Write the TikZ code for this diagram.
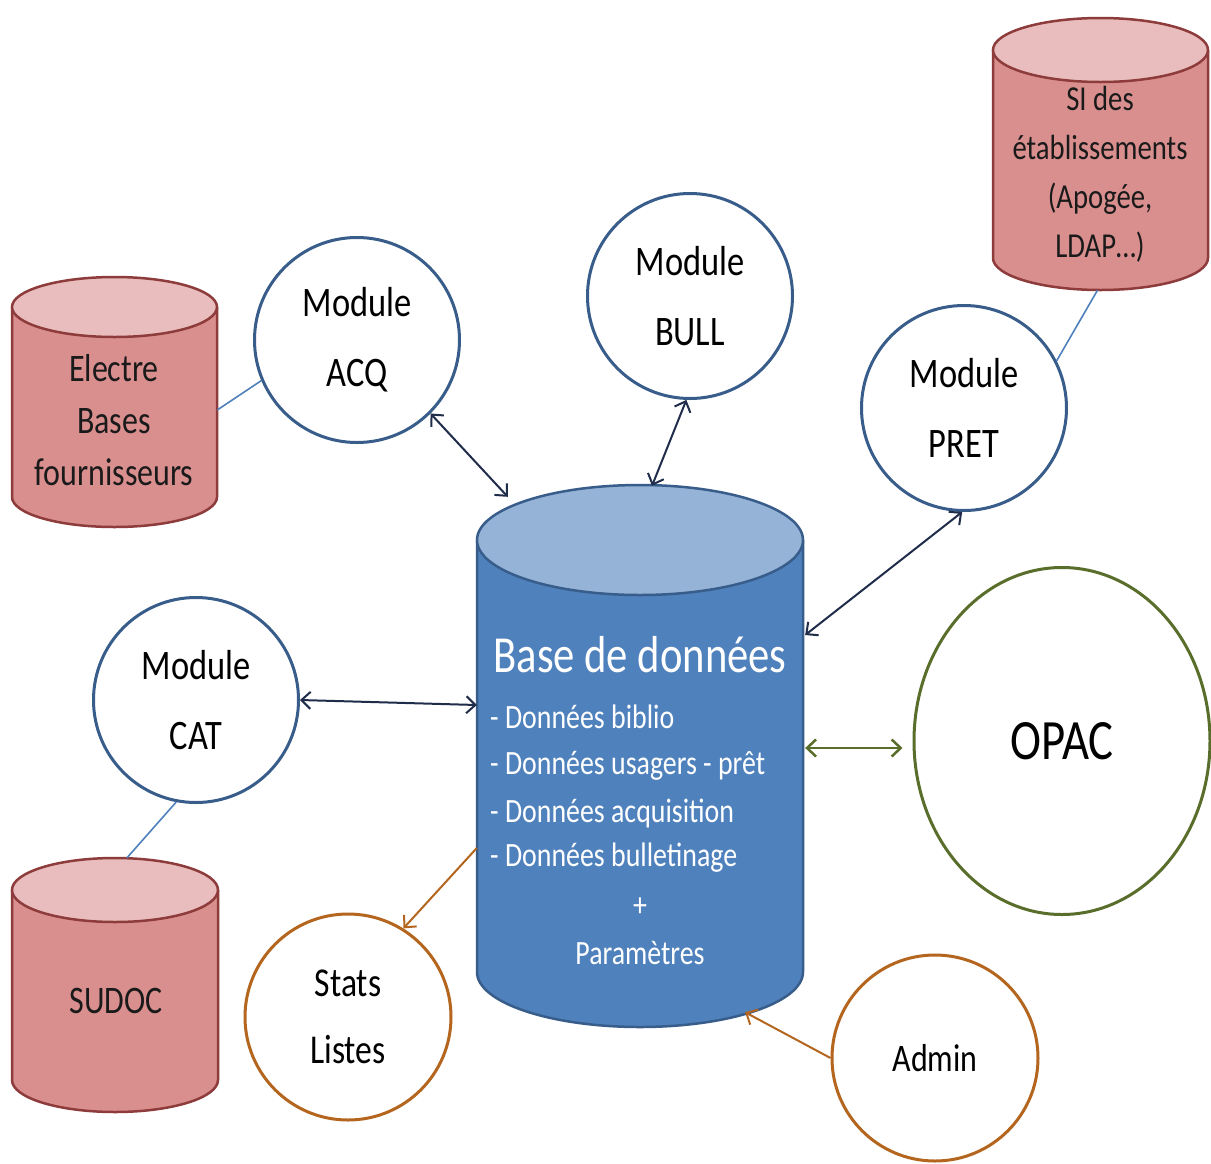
\documentclass[tikz,border=0pt]{standalone}
\usepackage{fontspec}
\setmainfont{Carlito}[FakeStretch=0.82]
\usetikzlibrary{arrows.meta,calc,shapes.geometric}
\definecolor{modblue}{HTML}{385D8A}
\definecolor{darkarr}{HTML}{1F2D4A}
\definecolor{lineblue}{HTML}{4F81BD}
\definecolor{greenc}{HTML}{5A6E2C}
\definecolor{orangec}{HTML}{B4651E}
\definecolor{pinkbody}{HTML}{DA8F8F}
\definecolor{pinktop}{HTML}{E9BDBD}
\definecolor{pinkline}{HTML}{8E3B3B}
\definecolor{dbbody}{HTML}{4F81BD}
\definecolor{dbtop}{HTML}{95B3D7}
\definecolor{dbline}{HTML}{385D8A}
\definecolor{pinktext}{HTML}{1A1A1A}
\newcommand\drawcyl[8]{%
  \fill[#6] (#1-#4,#2) rectangle (#1+#4,#3);
  \fill[#6] (#1,#3) ellipse[x radius=#4, y radius=#5];
  \draw[#8, line width=2.5pt] (#1-#4,#2) -- (#1-#4,#3) arc[start angle=180,end angle=0,x radius=#4,y radius=#5] -- (#1+#4,#2);
  \filldraw[fill=#7, draw=#8, line width=2.5pt] (#1,#2) ellipse[x radius=#4,y radius=#5];
}
\begin{document}
\begin{tikzpicture}[x=1pt,y=-1pt,
  modc/.style={circle, draw=modblue, line width=3pt, fill=white, minimum size=205pt, inner sep=0pt, align=center, font=\fontsize{42}{70}\selectfont},
  orc/.style={circle, draw=orangec, line width=3pt, fill=white, minimum size=206pt, inner sep=0pt, align=center},
  cylarea/.style={rectangle, draw=none, inner sep=0pt},
  pinktxt/.style={align=center, text=pinktext, inner sep=0pt},
  dbtxt/.style={text=white, inner sep=0pt, font=\fontsize{34}{40}\selectfont},
  darr/.style={draw=darkarr, line width=2pt, <->, >={Straight Barb[length=9pt,width=17pt]}},
  garr/.style={draw=greenc, line width=2.5pt, <->, >={Straight Barb[length=9pt,width=17pt]}},
  oarr/.style={draw=orangec, line width=2pt, ->, >={Straight Barb[length=9pt,width=17pt]}},
  lline/.style={draw=lineblue, line width=1.6pt}
]
\useasboundingbox (0,0) rectangle (1211,1163);
\fill[white] (0,0) rectangle (1211,1163);

% cylinders
\drawcyl{114.5}{307}{497}{102.5}{30}{pinkbody}{pinktop}{pinkline}
\drawcyl{1100.5}{50}{258}{107.5}{32}{pinkbody}{pinktop}{pinkline}
\drawcyl{115}{890}{1080}{103}{32}{pinkbody}{pinktop}{pinkline}
\drawcyl{640}{540}{972}{163}{55}{dbbody}{dbtop}{dbline}

\node[cylarea, minimum width=205pt, minimum height=250pt] (electre) at (114.5,402) {};
\node[cylarea, minimum width=215pt, minimum height=272pt] (si) at (1100.5,154) {};
\node[cylarea, minimum width=206pt, minimum height=254pt] (sudoc) at (115,985) {};
\node[cylarea, minimum width=326pt, minimum height=542pt] (db) at (640,756) {};

\node[pinktxt, font=\fontsize{39}{52}\selectfont] (electre-t) at (114,420) {Electre\\Bases\\fournisseurs};
\node[pinktxt, font=\fontsize{35}{49}\selectfont] (si-t) at (1100,174) {SI des\\établissements\\(Apogée,\\LDAP…)};
\node[pinktxt, font=\fontsize{39}{52}\selectfont] (sudoc-t) at (116,1001) {SUDOC};

\node[text=white, inner sep=0pt, font=\fontsize{52}{60}\selectfont] (db-t) at (640,655) {Base de données};
\node[dbtxt, anchor=west] (db-l1) at (490,717) {- Données biblio};
\node[dbtxt, anchor=west] (db-l2) at (490,766) {- Données usagers - prêt};
\node[dbtxt, anchor=west] (db-l3) at (490,813) {- Données acquisition};
\node[dbtxt, anchor=west] (db-l4) at (490,858) {- Données bulletinage};
\node[dbtxt] (db-l5) at (640,907) {+};
\node[dbtxt] (db-l6) at (640,953) {Paramètres};

% module circles
\node[modc] (acq) at (357,340) {Module\\ACQ};
\node[modc] (bull) at (690,296) {Module\\BULL};
\node[modc] (pret) at (964,408) {Module\\PRET};
\node[modc] (cat) at (196,700) {Module\\CAT};
\node[ellipse, draw=greenc, line width=3pt, fill=white, minimum width=296pt, minimum height=347pt, inner sep=0pt, font=\fontsize{57}{60}\selectfont] (opac) at (1062,741) {OPAC};
\node[orc, font=\fontsize{41}{67}\selectfont] (stats) at (348,1017) {Stats\\Listes};
\node[orc, font=\fontsize{39}{45}\selectfont] (admin) at (935,1058) {Admin};

% connectors
\draw[lline] ($(electre.east)+(0,8)$) -- (acq.203);
\draw[lline] ($(si.south)+(-3,0)$) -- (pret.27);
\draw[lline] (cat.-101) -- ($(sudoc.north)+(12,0)$);

\draw[darr] (acq.-45) -- ($(db.north west)+(31,12)$);
\draw[darr] (bull.-92) -- ($(db.north)+(12,1)$);
\draw[darr] (pret.-91) -- ($(db.east)+(2,-121)$);
\draw[darr] (cat.east) -- ($(db.west)+(0,-51)$);
\draw[garr] ($(db.east)+(2,-8)$) -- ($(opac.west)+(-10,7)$);
\draw[oarr] ($(db.west)+(0,92)$) -- (stats.58);
\draw[oarr] (admin.180) -- ($(db.south)+(105,-15)$);
\end{tikzpicture}
\end{document}
